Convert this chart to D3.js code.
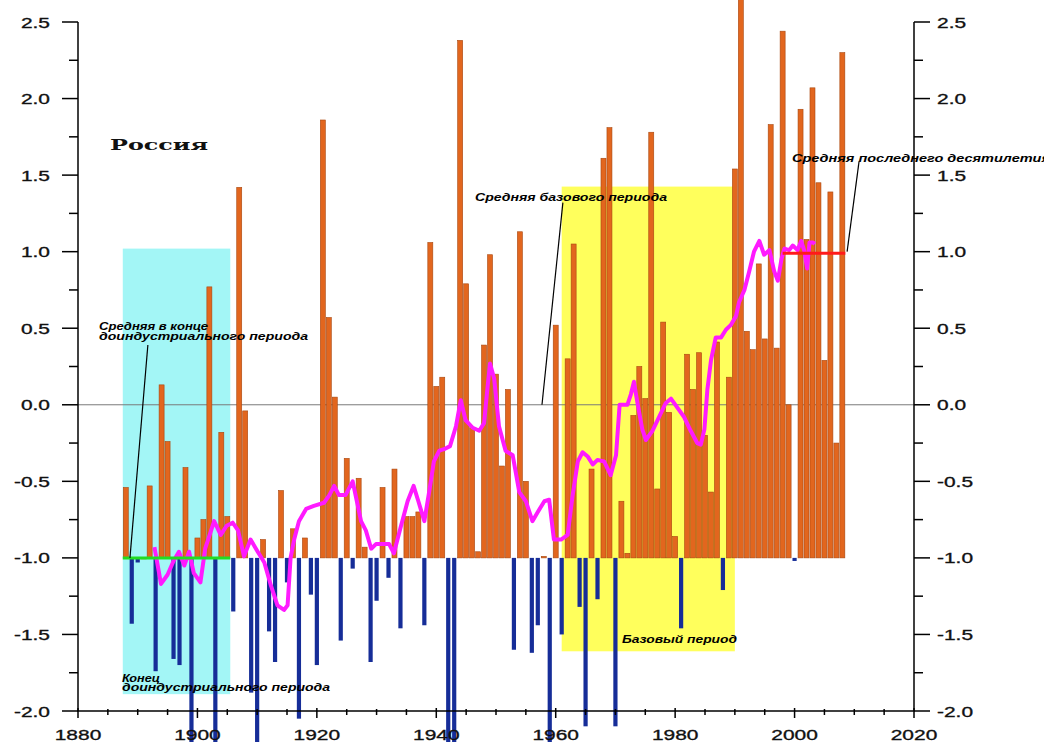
<!DOCTYPE html>
<html>
<head>
<meta charset="utf-8">
<script src="https://cdn.jsdelivr.net/npm/d3@7"></script>
<style>
  body { margin: 0; background: #fff; }
  svg { display: block; }
</style>
</head>
<body>
<div class="canvas"></div>
<script>
// annual anomalies, bars hang off the -1.0 level
const firstYear = 1888;
const anomalies = [
  -0.54, -1.43, -1.03, -1.00, -0.53, -1.74, 0.13, -0.24, -1.66, -1.70, // 1888-1897
  -0.41, -2.30, -0.87, -0.75, 0.77, -2.30, -0.18, -0.73, -1.35, 1.42,   // 1898-1907
  -0.04, -1.88, -2.30, -0.88, -1.48, -1.68, -0.56, -1.16, -0.81, -2.05, // 1908-1917
  -0.87, -1.24, -1.70, 1.86, 0.57, 0.05, -1.54, -0.35, -1.07, -0.48,    // 1918-1927
  -0.93, -1.68, -1.28, -0.54, -1.13, -0.42, -1.46, -0.73, -0.73, -0.70, // 1928-1937
  -1.44, 1.06, 0.12, 0.18, -2.30, -2.30, 2.38, 0.79, -0.15, -0.96,      // 1938-1947
  0.39, 0.98, 0.20, -0.40, 0.10, -1.60, 1.13, -0.50, -1.62, -1.44,      // 1948-1957
  -0.99, -2.30, 0.52, -1.50, 0.30, 1.05, -1.32, -2.10, -0.42, -1.27,    // 1958-1967
  1.61, 1.81, -2.10, -0.63, -0.97, -0.07, 0.25, 0.04, 1.78, -0.55,      // 1968-1977
  0.54, -0.05, -0.86, -1.46, 0.33, 0.10, 0.34, -0.20, -0.57, 0.41,      // 1978-1987
  -1.21, 0.18, 1.54, 2.70, 0.48, 0.36, 0.92, 0.43, 1.83, 0.37,          // 1988-1997
  2.44, 0.00, -1.02, 1.93, 1.08, 2.07, 1.45, 0.29, 1.39, -0.25,         // 1998-2007
  2.30                                                                  // 2008
];
const years = anomalies.map((d, i) => firstYear + i);

// smoothed curve
const smoothYears = [
  1892.8, 1893.9, 1895.0, 1896.0, 1896.9, 1897.8, 1898.6, 1899.4, 1900.5, 1901.3,
  1902.8, 1903.9, 1904.9, 1905.9, 1906.8, 1907.8, 1908.9, 1910.1, 1911.2, 1912.3,
  1913.4, 1914.5, 1915.1, 1915.6, 1916.2, 1917.0, 1918.2, 1919.5, 1921.2, 1922.1,
  1922.9, 1923.7, 1924.8, 1926.0, 1926.7, 1927.4, 1928.2, 1929.1, 1929.9, 1931.0,
  1932.1, 1932.9, 1934.1, 1935.2, 1936.2, 1937.0, 1938.0, 1938.8, 1939.6, 1940.5,
  1941.3, 1942.3, 1943.3, 1944.1, 1944.9, 1946.1, 1947.2, 1948.0, 1948.6, 1949.0,
  1949.7, 1950.5, 1951.6, 1952.8, 1953.9, 1955.0, 1956.1, 1957.0, 1958.1, 1958.9,
  1959.7, 1960.9, 1962.0, 1962.8, 1963.7, 1964.5, 1965.4, 1966.2, 1967.0, 1968.1,
  1969.2, 1970.1, 1970.7, 1971.2, 1972.0, 1972.6, 1973.1, 1973.7, 1974.5, 1975.1,
  1976.2, 1977.3, 1978.4, 1979.3, 1980.4, 1981.5, 1982.6, 1983.7, 1984.3, 1984.9,
  1985.4, 1986.0, 1986.8, 1987.7, 1988.5, 1989.3, 1990.2, 1990.7, 1991.6, 1992.4,
  1993.2, 1994.1, 1994.9, 1995.8, 1996.6, 1997.2, 1997.8, 1998.3, 1999.1, 1999.7,
  2000.5, 2001.1, 2001.6, 2002.1, 2002.5, 2003.1, 2003.4
];
const smoothValues = [
  -0.93, -1.17, -1.11, -1.02, -0.96, -1.05, -0.96, -1.10, -1.16, -0.94,
  -0.76, -0.85, -0.79, -0.77, -0.82, -0.99, -0.88, -0.96, -1.03, -1.18,
  -1.31, -1.34, -1.31, -1.00, -0.88, -0.76, -0.68, -0.66, -0.64, -0.59,
  -0.53, -0.59, -0.59, -0.50, -0.63, -0.76, -0.82, -0.94, -0.91, -0.91,
  -0.91, -0.97, -0.79, -0.63, -0.53, -0.63, -0.76, -0.57, -0.37, -0.30,
  -0.29, -0.27, -0.14, 0.03, -0.10, -0.15, -0.17, -0.12, 0.12, 0.27,
  0.17, -0.14, -0.30, -0.33, -0.57, -0.63, -0.76, -0.70, -0.63, -0.62,
  -0.88, -0.88, -0.85, -0.60, -0.37, -0.31, -0.34, -0.39, -0.36, -0.37,
  -0.46, -0.33, 0.00, 0.00, 0.00, 0.07, 0.15, 0.01, -0.16, -0.23,
  -0.17, -0.08, 0.01, 0.04, -0.02, -0.08, -0.17, -0.25, -0.26, -0.16,
  0.10, 0.29, 0.44, 0.44, 0.49, 0.52, 0.58, 0.67, 0.75, 0.87,
  1.00, 1.07, 0.98, 1.01, 0.87, 0.81, 0.95, 1.02, 1.01, 1.04,
  1.01, 1.07, 1.01, 0.89, 1.06, 1.06, 1.05
];

const xTicks = [1880, 1900, 1920, 1940, 1960, 1980, 2000, 2020];
const xMinorTicks = d3.range(1880, 2021, 5);
const yTicks = [-2.0, -1.5, -1.0, -0.5, 0.0, 0.5, 1.0, 1.5, 2.0, 2.5];
const yMinorTicks = d3.range(-2.0, 2.51, 0.25);

const baseLevel = -1.0;           // bars start here
const preIndustrial = [1887.5, 1905.5];
const basePeriod = [1961, 1990];
const lastDecade = [1998, 2008.5];
const lastDecadeMean = 0.99;

const dims = { width: 1044, height: 742 };
const plot = { left: 78, right: 914, top: 22, bottom: 711 };

const svg = d3
  .select(".canvas")
  .append("svg")
  .attr("width", dims.width)
  .attr("height", dims.height);

const x = d3.scaleLinear().domain([1880, 2020]).range([plot.left, plot.right]);
const y = d3.scaleLinear().domain([-2.0, 2.5]).range([plot.bottom, plot.top]);

// shaded periods
svg
  .append("rect")
  .attr("x", x(preIndustrial[0]))
  .attr("width", x(preIndustrial[1]) - x(preIndustrial[0]))
  .attr("y", y(1.02))
  .attr("height", y(-1.89) - y(1.02))
  .attr("fill", "#a3f6f6");

svg
  .append("rect")
  .attr("x", x(basePeriod[0]))
  .attr("width", x(basePeriod[1]) - x(basePeriod[0]))
  .attr("y", y(1.425))
  .attr("height", y(-1.61) - y(1.425))
  .attr("fill", "#ffff5c");

// zero line
svg
  .append("line")
  .attr("x1", plot.left)
  .attr("x2", plot.right)
  .attr("y1", y(0))
  .attr("y2", y(0))
  .attr("stroke", "#7a7a7a")
  .attr("stroke-width", 1);

// bars
const barW = 5;
svg
  .append("g")
  .selectAll("rect")
  .data(years.map((yr, i) => ({ yr, v: anomalies[i] })))
  .enter()
  .append("rect")
  .attr("x", (d) => x(d.yr) - (d.v >= baseLevel ? barW : barW - 0.8) / 2)
  .attr("width", (d) => (d.v >= baseLevel ? barW : barW - 0.8))
  .attr("y", (d) => y(Math.max(d.v, baseLevel)))
  .attr("height", (d) => Math.max(Math.abs(y(d.v) - y(baseLevel)), 1))
  .attr("fill", (d) => (d.v >= baseLevel ? "#e2661e" : "#162d98"))
  .attr("stroke", (d) => (d.v >= baseLevel ? "#a8470f" : "none"))
  .attr("stroke-width", 0.6);

// smoothed curve
const line = d3
  .line()
  .x((d) => x(d[0]))
  .y((d) => y(d[1]));

svg
  .append("path")
  .datum(smoothYears.map((yr, i) => [yr, smoothValues[i]]))
  .attr("d", line)
  .attr("fill", "none")
  .attr("stroke", "#ff1aff")
  .attr("stroke-width", 4)
  .attr("stroke-linejoin", "round");

// period means
svg
  .append("line")
  .attr("x1", x(preIndustrial[0]))
  .attr("x2", x(preIndustrial[1]))
  .attr("y1", y(baseLevel))
  .attr("y2", y(baseLevel))
  .attr("stroke", "#22dd22")
  .attr("stroke-width", 3);

svg
  .append("line")
  .attr("x1", x(lastDecade[0]))
  .attr("x2", x(lastDecade[1]))
  .attr("y1", y(lastDecadeMean))
  .attr("y2", y(lastDecadeMean))
  .attr("stroke", "#ff1a1a")
  .attr("stroke-width", 3);

// axes
const axisG = svg.append("g").attr("stroke", "#000").attr("stroke-width", 1.5);

axisG.append("line").attr("x1", plot.left).attr("x2", plot.left).attr("y1", y(2.5)).attr("y2", plot.bottom);
axisG.append("line").attr("x1", plot.right).attr("x2", plot.right).attr("y1", y(2.5)).attr("y2", plot.bottom);
axisG.append("line").attr("x1", plot.left - 1).attr("x2", plot.right + 1).attr("y1", plot.bottom).attr("y2", plot.bottom);

yMinorTicks.forEach((v) => {
  const major = Math.abs(v * 2 - Math.round(v * 2)) < 1e-6;
  const len = major ? 16 : 9;
  axisG.append("line").attr("x1", plot.left - len).attr("x2", plot.left).attr("y1", y(v)).attr("y2", y(v));
  axisG.append("line").attr("x1", plot.right).attr("x2", plot.right + len).attr("y1", y(v)).attr("y2", y(v));
});

xMinorTicks.forEach((yr) => {
  const major = yr % 20 === 0;
  axisG
    .append("line")
    .attr("x1", x(yr))
    .attr("x2", x(yr))
    .attr("y1", plot.bottom - (major ? 3 : 2))
    .attr("y2", plot.bottom + (major ? 7 : 4));
});

const tickFont = { family: "Liberation Sans, Arial, sans-serif", size: 15.5 };

const tickText = (txt, tx, ty, anchor) =>
  svg
    .append("text")
    .text(txt)
    .attr("transform", `translate(${tx}, ${ty}) scale(1.35, 1)`)
    .attr("text-anchor", anchor)
    .attr("font-family", tickFont.family)
    .attr("font-size", tickFont.size)
    .attr("fill", "#111")
    .attr("stroke", "#111")
    .attr("stroke-width", 0.35);

yTicks.forEach((v) => {
  tickText(v.toFixed(1), 50, y(v) + 5.5, "end");
  tickText(v.toFixed(1), 937, y(v) + 5.5, "start");
});

xTicks.forEach((yr) => tickText(yr, x(yr), 740, "middle"));

// title
svg
  .append("text")
  .text("Россия")
  .attr("x", 110)
  .attr("y", 150)
  .attr("font-family", "DejaVu Serif, serif")
  .attr("font-weight", "bold")
  .attr("font-size", 14)
  .attr("textLength", 98)
  .attr("lengthAdjust", "spacingAndGlyphs")
  .attr("fill", "#111");

// annotations
const note = (txt, px, py, w) =>
  svg
    .append("text")
    .text(txt)
    .attr("x", px)
    .attr("y", py)
    .attr("font-family", "Liberation Sans, Arial, sans-serif")
    .attr("font-weight", "bold")
    .attr("font-style", "italic")
    .attr("font-size", 10)
    .attr("textLength", w)
    .attr("lengthAdjust", "spacingAndGlyphs")
    .attr("fill", "#000");

note("Средняя в конце", 99, 330, 109);
note("доиндустриального периода", 99, 340, 209);
note("Средняя базового периода", 475, 201, 192);
note("Средняя последнего десятилетия", 792, 162, 258);
note("Конец", 122, 682, 38);
note("доиндустриального периода", 122, 691, 208);
note("Базовый период", 622, 643, 115);

const leader = (a, b) =>
  svg
    .append("line")
    .attr("x1", x(a[0]))
    .attr("y1", y(a[1]))
    .attr("x2", x(b[0]))
    .attr("y2", y(b[1]))
    .attr("stroke", "#000")
    .attr("stroke-width", 1.2);

leader([1888.7, -1.0], [1891.7, 0.39]);
leader([1957.7, 0.0], [1961.2, 1.32]);
leader([2008.8, 1.0], [2010.8, 1.59]);
</script>
</body>
</html>
